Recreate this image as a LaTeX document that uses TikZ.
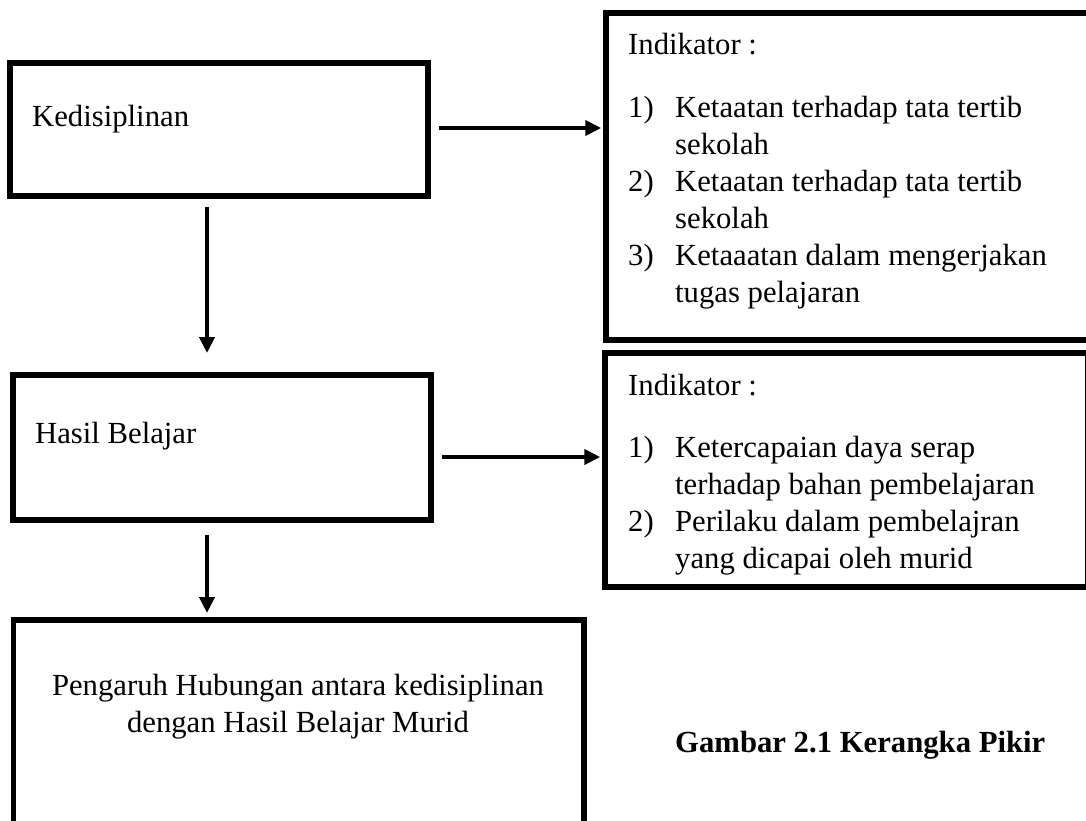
\documentclass[tikz,border=0pt]{standalone}
\usepackage{fontspec}
\setmainfont{Liberation Serif}
\usetikzlibrary{arrows.meta}

\begin{document}
\begin{tikzpicture}[x=1pt,y=-1pt,
	box/.style={draw,line width=5.5pt,inner sep=0pt},
	txt/.style={inner sep=0pt,anchor=base west,align=left},
	list/.style={txt,text width=440pt,align=flush left},
	arr/.style={line width=4.3pt,-{Triangle[width=15pt,length=16pt]}},
	font=\fontsize{30.7}{37}\selectfont]
	\def\ind{\hspace*{47pt}}
	\def\num#1{\makebox[47pt][l]{#1}}

	\useasboundingbox (0,0) rectangle (1086,821);
	\clip (0,0) rectangle (1086,821);

	\node[box,minimum width=418pt,minimum height=133pt] (kedis) at (219,129.5) {};
	\node[box,minimum width=418pt,minimum height=145pt] (hasil) at (222,447.5) {};
	\node[box,minimum width=570.5pt,minimum height=220pt] (pengaruh) at (298.75,730) {};
	\node[box,minimum width=489pt,minimum height=327pt] (ind1) at (850.5,176.5) {};
	\node[box,minimum width=482.5pt,minimum height=234pt] (ind2) at (846.25,470) {};

	\node[txt] (kedisT) at (32,127) {Kedisiplinan};
	\node[txt] (hasilT) at (35,443) {Hasil Belajar};
	\node[txt,anchor=base,text width=560pt,align=flush center] (pengaruhT) at (298,695)
		{Pengaruh Hubungan antara kedisiplinan\\dengan Hasil Belajar Murid};

	\node[txt] (ind1T) at (628,55) {Indikator :};
	\node[list] (ind1L) at (628,118) {\num{1)}Ketaatan terhadap tata tertib\\
		\ind sekolah\\
		\num{2)}Ketaatan terhadap tata tertib\\
		\ind sekolah\\
		\num{3)}Ketaaatan dalam mengerjakan\\
		\ind tugas pelajaran};

	\node[txt] (ind2T) at (628,395) {Indikator :};
	\node[list] (ind2L) at (628,457) {\num{1)}Ketercapaian daya serap\\
		\ind terhadap bahan pembelajaran\\
		\num{2)}Perilaku dalam pembelajran\\
		\ind yang dicapai oleh murid};

	\node[txt] (caption) at (675,752) {\bfseries Gambar 2.1 Kerangka Pikir};

	\draw[arr] ([xshift=8pt,yshift=1.5pt]kedis.east) -- ([xshift=-2pt,yshift=1.5pt]kedis.east -| ind1.west);
	\draw[arr] ([xshift=8pt,yshift=-9.5pt]hasil.east) -- ([xshift=-2pt,yshift=-9.5pt]hasil.east -| ind2.west);
	\draw[arr] ([xshift=-12pt,yshift=-8.25pt]kedis.south) -- ([xshift=-15pt,yshift=19.25pt]hasil.north);
	\draw[arr] ([xshift=-15pt,yshift=-12.25pt]hasil.south) -- ([xshift=-15pt,yshift=4.25pt]hasil.south |- pengaruh.north);

\end{tikzpicture}
\end{document}
